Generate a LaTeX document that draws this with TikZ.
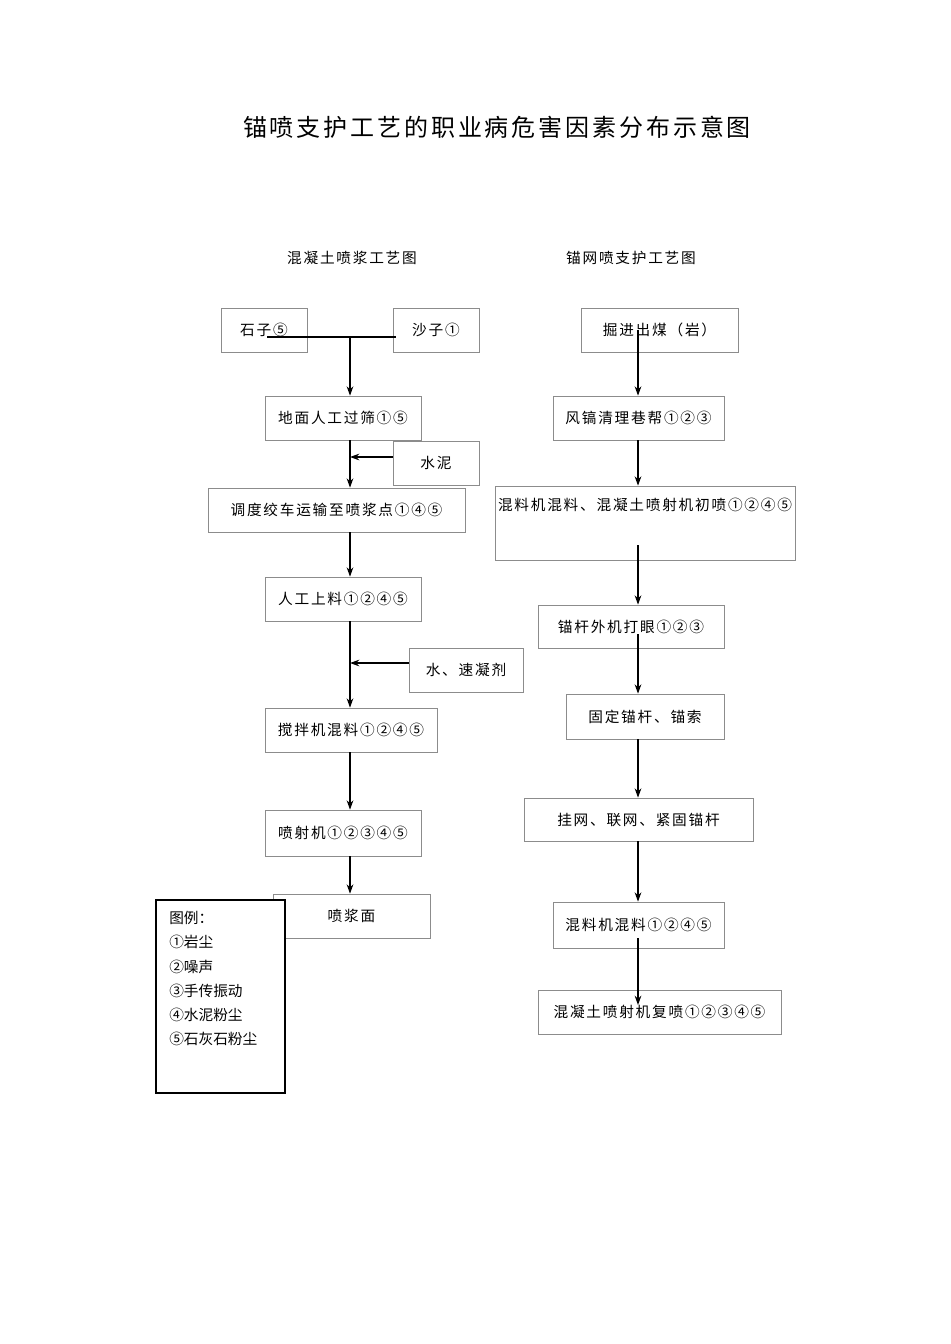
\documentclass[tikz,border=0pt]{standalone}
\usepackage{fontspec}
\setmainfont{Noto Sans CJK SC}[LetterSpace=12]
\usetikzlibrary{arrows.meta}
\tikzset{
  box/.style={draw=black!45, line width=0.5pt, inner sep=0pt},
  lbl/.style={font=\fontsize{11pt}{13pt}\selectfont, inner sep=0pt},
  arr/.style={-{Stealth[length=7pt,width=5pt]}, line width=1pt},
  ln/.style={line width=1pt}
}
\newcommand{\bx}[6]{% name, x1,y1,x2,y2, text
  \node[box, minimum width={(#4-#2)*0.75pt}, minimum height={(#5-#3)*0.75pt}] (#1) at ({(#2+#4)/2},{(#3+#5)/2}) {};
  \node[lbl] (#1t) at (#1) {#6};}
\begin{document}
\begin{tikzpicture}[x=0.75pt,y=-0.75pt]
\useasboundingbox (0,0) rectangle (950,1344);
\coordinate (colL) at (350,0);
\coordinate (colR) at (638,0);
\node[font=\fontsize{18pt}{20pt}\selectfont, inner sep=0pt] (title) at (497,127) {锚喷支护工艺的职业病危害因素分布示意图};
\node[lbl] (hL) at (352,258) {混凝土喷浆工艺图};
\node[lbl] (hR) at (631,258) {锚网喷支护工艺图};
% left
\bx{shizi}{221}{308}{307}{352}{石子⑤}
\bx{shazi}{393}{308}{479}{352}{沙子①}
\bx{dimian}{265}{396}{421}{440}{地面人工过筛①⑤}
\bx{shuini}{393}{441}{479}{485}{水泥}
\bx{tiaodu}{208}{488}{465}{532}{调度绞车运输至喷浆点①④⑤}
\bx{rengong}{265}{577}{421}{621}{人工上料①②④⑤}
\bx{shui}{409}{648}{523}{692}{水、速凝剂}
\bx{jiaoban}{265}{708}{437}{752}{搅拌机混料①②④⑤}
\bx{penshe}{265}{810}{421}{856}{喷射机①②③④⑤}
\bx{penjiang}{273}{894}{430}{938}{喷浆面}
\coordinate (jn) at (350,337);
\draw[ln] (267,337) -- (396,337);
\draw[arr] (jn) -- (dimian.north -| colL);
\draw[arr] (dimian.south -| colL) -- (tiaodu.north -| colL);
\draw[arr] (shuini.west |- 0,457) -- (350,457);
\draw[arr] (tiaodu.south -| colL) -- (rengong.north -| colL);
\draw[arr] (rengong.south -| colL) -- (jiaoban.north -| colL);
\draw[arr] (shui.west |- 0,663) -- (350,663);
\draw[arr] (jiaoban.south -| colL) -- (penshe.north -| colL);
\draw[arr] (penshe.south -| colL) -- (penjiang.north -| colL);
% legend
\node[draw, line width=1pt, fill=white, minimum width={129*0.75pt}, minimum height={193*0.75pt}, inner sep=0pt] (legend) at (220.5,996.5) {};
\node[font=\fontsize{11pt}{18.2pt}\selectfont\addfontfeature{LetterSpace=0}, align=left, anchor=north west, inner sep=0pt] (legt) at (169,911) {图例：\\①岩尘\\②噪声\\③手传振动\\④水泥粉尘\\⑤石灰石粉尘};
% right
\bx{juejin}{581}{308}{738}{352}{掘进出煤（岩）}
\bx{fenggao}{553}{396}{724}{440}{风镐清理巷帮①②③}
\node[box, minimum width={300*0.75pt}, minimum height={74*0.75pt}] (hunliao) at (645,523) {};
\node[lbl] (hunliaot) at (645,505) {混料机混料、混凝土喷射机初喷①②④⑤};
\bx{maogan}{538}{605}{724}{648}{锚杆外机打眼①②③}
\bx{guding}{566}{694}{724}{739}{固定锚杆、锚索}
\bx{guawang}{524}{798}{753}{841}{挂网、联网、紧固锚杆}
\bx{hunliao2}{553}{902}{724}{948}{混料机混料①②④⑤}
\bx{fupen}{538}{990}{781}{1034}{混凝土喷射机复喷①②③④⑤}
\draw[arr] (juejin.center -| colR) -- (fenggao.north -| colR);
\draw[arr] (fenggao.south -| colR) -- (hunliao.north -| colR);
\draw[arr] (638,545) -- (maogan.north -| colR);
\draw[arr] (638,634) -- (guding.north -| colR);
\draw[arr] (guding.south -| colR) -- (guawang.north -| colR);
\draw[arr] (guawang.south -| colR) -- (hunliao2.north -| colR);
\draw[arr] (638,938) -- (638,1005);
\end{tikzpicture}
\end{document}
